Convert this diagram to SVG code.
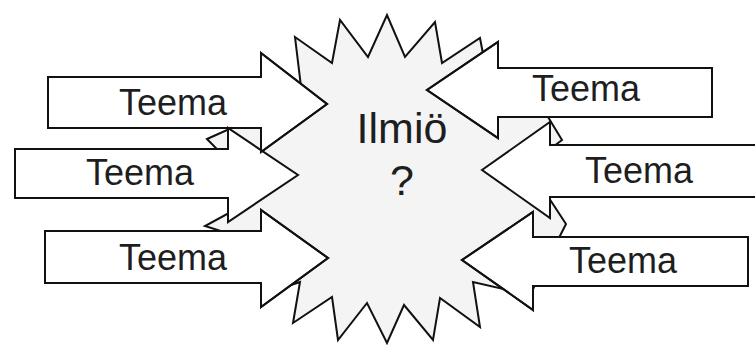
<svg xmlns="http://www.w3.org/2000/svg" xmlns:xlink="http://www.w3.org/1999/xlink" width="755" height="345" viewBox="0 0 755 345">
<style>
.bg{fill:#ffffff}
.burst{fill:#f4f4f4;stroke:#111;stroke-width:2;stroke-linejoin:miter}
.fill{fill:#ffffff;stroke:#111;stroke-width:2;stroke-linejoin:miter}
.edge{fill:none;stroke:#111;stroke-width:2;stroke-linejoin:miter}
.lbl{font-family:"Liberation Sans",Arial,sans-serif;font-size:36px;fill:#1e1e1e;text-anchor:middle}
.big{font-family:"Liberation Sans",Arial,sans-serif;font-size:43px;fill:#1e1e1e;text-anchor:middle}
</style>
<defs>
<path id="a1" d="M48,77 H261 V53 L327,104 L261,152 V128 H48 Z"/>
<path id="a2" d="M15,149 H228 V128 L298,175 L228,222 V198 H15 Z"/>
<path id="a3" d="M45,231 H261 V210 L328,258 L261,307 V283 H45 Z"/>
<path id="a4" d="M712,68 H498 V42 L427,90 L498,138 V117 H712 Z"/>
<path id="a5" d="M760,145 H550 V122 L482,170 L550,218 V197 H760 Z"/>
<path id="a6" d="M748,237 H533 V212 L462,260 L533,310 V286 H748 Z"/>
</defs>
<rect class="bg" x="0" y="0" width="755" height="345"/>
<g id="phenomenon">
<polygon class="burst" points="207,139 272,110 302,95 295,37 332,63 340,20 368,57 387,15 405,57 435,22 442,63 480,38 488,80 545,112 562,140 520,172 545,192 566,224 530,295 473,282 480,327 440,298 433,340 404,305 387,343 367,303 338,340 332,297 293,323 300,282 270,292 280,250 205,226 262,195"/>
<text class="big" x="402" y="143">Ilmiö</text>
<text class="big" x="402" y="195">?</text>
</g>
<g id="theme-left-1"><use xlink:href="#a1" href="#a1" class="fill"/><text class="lbl" x="173" y="115">Teema</text></g>
<g id="theme-left-3"><use xlink:href="#a3" href="#a3" class="fill"/><text class="lbl" x="173" y="270">Teema</text></g>
<g id="theme-left-2"><use xlink:href="#a2" href="#a2" class="fill"/><text class="lbl" x="140" y="185">Teema</text></g>
<g id="theme-right-1"><use xlink:href="#a4" href="#a4" class="fill"/><text class="lbl" x="586" y="101">Teema</text></g>
<g id="theme-right-3"><use xlink:href="#a6" href="#a6" class="fill"/><text class="lbl" x="623" y="273">Teema</text></g>
<g id="theme-right-2"><use xlink:href="#a5" href="#a5" class="fill"/><text class="lbl" x="639" y="183">Teema</text></g>
<g id="connectors">
<use xlink:href="#a1" href="#a1" class="edge"/>
<use xlink:href="#a3" href="#a3" class="edge"/>
<use xlink:href="#a4" href="#a4" class="edge"/>
<use xlink:href="#a6" href="#a6" class="edge"/>
</g>
</svg>
